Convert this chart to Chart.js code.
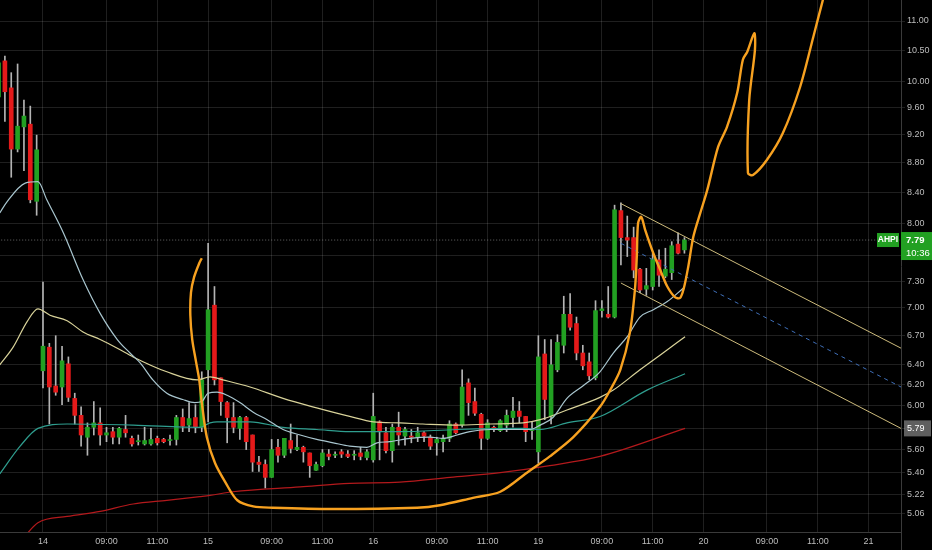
<!DOCTYPE html>
<html>
<head>
<meta charset="utf-8">
<script src="https://cdn.jsdelivr.net/npm/chart.js@4.4.1/dist/chart.umd.min.js"></script>
<style>
    html, body { margin: 0; padding: 0; background: #000; }
    #chart { display: block; }
</style>
</head>
<body>
<canvas id="chart" width="932" height="550"></canvas>
<script>
// bar index of the first candle (0 = first bar of the 14th)
const firstBar = -7
const opens = [9.76, 10.33, 9.90, 8.99, 9.31, 9.35, 8.28,
    6.34, 6.58, 6.19, 6.18, 6.41, 6.07, 5.91, 5.71, 5.80, 5.84, 5.73, 5.76, 5.71, 5.78, 5.70, 5.67, 5.65, 5.65, 5.70, 5.69, 5.68, 5.69, 5.89, 5.82, 5.89, 5.80,
    6.35, 7.03, 6.27, 6.03, 5.89, 5.79, 5.89, 5.73, 5.49, 5.47, 5.36, 5.62, 5.55, 5.68, 5.60, 5.62, 5.57, 5.42, 5.46, 5.56, 5.55, 5.58, 5.56, 5.55, 5.57, 5.53,
    5.51, 5.85, 5.75, 5.59, 5.80, 5.72, 5.72, 5.71, 5.75, 5.71, 5.66, 5.67, 5.70, 5.83, 5.82, 6.22, 6.04, 5.92, 5.70, 5.80, 5.77, 5.82, 5.89, 5.95, 5.90, 5.77,
    5.58, 6.51, 5.90, 6.35, 6.60, 6.93, 6.83, 6.52, 6.43, 6.27, 6.97, 6.93, 6.90, 8.16, 7.82, 7.82, 7.44, 7.21, 7.24, 7.55, 7.36, 7.40, 7.74, 7.67]
const highs = [10.46, 10.41, 10.14, 10.28, 9.71, 9.62, 9.19,
    7.29, 6.62, 6.70, 6.59, 6.48, 6.12, 5.99, 5.84, 6.04, 5.98, 5.80, 5.80, 5.80, 5.91, 5.72, 5.73, 5.80, 5.79, 5.72, 5.70, 5.73, 5.91, 5.97, 6.03, 6.01, 6.33,
    7.75, 7.24, 6.27, 6.04, 6.03, 5.90, 5.90, 5.73, 5.54, 5.51, 5.69, 5.69, 5.70, 5.83, 5.73, 5.63, 5.57, 5.49, 5.60, 5.60, 5.58, 5.60, 5.59, 5.59, 5.62, 5.60,
    6.12, 5.86, 5.80, 5.83, 5.94, 5.80, 5.78, 5.80, 5.76, 5.73, 5.71, 5.73, 5.86, 5.84, 6.35, 6.26, 6.17, 5.93, 5.87, 5.81, 5.87, 5.96, 6.08, 6.04, 5.90, 5.85,
    6.70, 6.66, 6.66, 6.71, 7.13, 7.16, 6.90, 6.60, 6.52, 7.08, 7.08, 7.24, 8.23, 8.26, 8.09, 7.95, 7.45, 7.45, 7.63, 7.67, 7.69, 7.77, 7.88, 7.82]
const lows = [9.37, 9.39, 8.60, 8.95, 8.69, 8.26, 8.10,
    6.17, 5.83, 6.10, 6.01, 6.04, 5.83, 5.63, 5.55, 5.73, 5.64, 5.67, 5.65, 5.65, 5.71, 5.63, 5.64, 5.64, 5.64, 5.64, 5.66, 5.64, 5.64, 5.76, 5.76, 5.75, 5.76,
    5.85, 6.20, 5.91, 5.66, 5.75, 5.69, 5.60, 5.41, 5.41, 5.27, 5.36, 5.49, 5.53, 5.57, 5.59, 5.49, 5.36, 5.42, 5.45, 5.51, 5.53, 5.53, 5.53, 5.51, 5.51, 5.51,
    5.49, 5.51, 5.57, 5.49, 5.64, 5.64, 5.66, 5.67, 5.67, 5.60, 5.55, 5.58, 5.67, 5.74, 5.80, 5.91, 5.91, 5.60, 5.69, 5.76, 5.76, 5.76, 5.80, 5.84, 5.67, 5.69,
    5.48, 5.87, 5.83, 6.33, 6.52, 6.76, 6.45, 6.35, 6.25, 6.25, 6.90, 6.89, 6.89, 7.49, 7.59, 7.34, 7.17, 7.14, 7.20, 7.24, 7.34, 7.32, 7.62, 7.63]
const closes = [10.30, 9.84, 8.99, 9.32, 9.47, 8.30, 8.98,
    6.59, 6.18, 6.13, 6.44, 6.08, 5.91, 5.73, 5.80, 5.84, 5.73, 5.75, 5.71, 5.79, 5.75, 5.65, 5.67, 5.68, 5.69, 5.66, 5.67, 5.68, 5.89, 5.81, 5.88, 5.80, 6.25,
    6.98, 6.25, 6.04, 5.89, 5.80, 5.89, 5.67, 5.49, 5.47, 5.36, 5.60, 5.55, 5.70, 5.61, 5.62, 5.58, 5.46, 5.47, 5.57, 5.54, 5.55, 5.56, 5.54, 5.55, 5.54, 5.58,
    5.90, 5.76, 5.59, 5.80, 5.73, 5.78, 5.71, 5.75, 5.72, 5.63, 5.69, 5.70, 5.83, 5.75, 6.18, 6.03, 5.93, 5.70, 5.84, 5.79, 5.86, 5.91, 5.95, 5.90, 5.76, 5.77,
    6.48, 6.06, 6.40, 6.63, 6.93, 6.79, 6.52, 6.39, 6.29, 6.97, 6.99, 6.90, 8.17, 7.82, 7.79, 7.43, 7.20, 7.25, 7.56, 7.37, 7.44, 7.72, 7.63, 7.79]

// moving averages as (bar index, price)
const fastMaX = [-6.8, -5.7, -2.8, -0.8, 0.6, 3.2, 6.3, 9.0, 11.7, 13.7, 15.3, 17.3, 19.5, 22.0, 23.9, 25.0, 26.0, 27.4, 29.0, 31.0, 33.1, 35.3, 37.8, 40.5, 43.1, 45.7, 48.3, 51.0, 52.6, 54.6, 57.8, 60.9, 63.0, 65.2, 67.2, 70.4, 73.5, 76.7, 78.3, 80.3, 82.5, 85.0, 87.7, 89.8, 92.0, 94.0, 96.1, 98.3, 100.8]
const fastMaY = [8.13, 8.27, 8.52, 8.54, 8.30, 7.88, 7.32, 6.94, 6.66, 6.52, 6.42, 6.25, 6.12, 6.06, 6.03, 6.04, 6.12, 6.13, 6.10, 6.03, 5.94, 5.87, 5.78, 5.73, 5.69, 5.66, 5.63, 5.62, 5.66, 5.67, 5.70, 5.71, 5.70, 5.73, 5.76, 5.78, 5.78, 5.78, 5.82, 5.89, 6.07, 6.19, 6.33, 6.52, 6.69, 6.90, 6.98, 7.07, 7.22]
const midMaX = [-6.8, -4.7, -2.5, -0.8, 1.1, 3.8, 6.3, 9.0, 11.7, 14.2, 19.5, 24.3, 26.3, 28.3, 32.6, 37.8, 43.1, 48.3, 52.0, 56.2, 59.8, 65.2, 70.4, 75.6, 78.3, 82.5, 87.7, 89.8, 94.0, 97.2, 101.1]
const midMaY = [6.40, 6.58, 6.85, 6.99, 6.92, 6.86, 6.74, 6.66, 6.57, 6.48, 6.33, 6.25, 6.28, 6.25, 6.18, 6.07, 5.98, 5.90, 5.85, 5.84, 5.83, 5.82, 5.83, 5.84, 5.87, 5.96, 6.08, 6.15, 6.35, 6.50, 6.69]
const slowMaX = [-6.8, -3.6, -0.8, 3.8, 14.2, 24.7, 26.3, 27.4, 32.6, 37.8, 43.1, 48.3, 56.2, 65.2, 75.6, 78.3, 82.5, 87.7, 95.1, 101.1]
const slowMaY = [5.39, 5.63, 5.79, 5.83, 5.82, 5.80, 5.84, 5.85, 5.85, 5.80, 5.78, 5.76, 5.76, 5.78, 5.79, 5.78, 5.84, 5.90, 6.15, 6.31]
const longMaX = [-3.3, -0.8, 3.8, 9.0, 14.2, 19.5, 24.7, 26.3, 29.9, 40.5, 48.3, 56.2, 64.1, 72.0, 79.8, 87.7, 101.1]
const longMaY = [4.86, 4.99, 5.04, 5.08, 5.14, 5.17, 5.20, 5.21, 5.24, 5.28, 5.31, 5.32, 5.36, 5.40, 5.46, 5.54, 5.79]

// freehand orange drawing
const drawX = [25.0, 24.6, 23.8, 23.3, 23.2, 23.5, 24.1, 24.6, 25.0, 25.8, 27.1, 28.7, 30.6, 33.1, 36.2, 45.7, 58.9, 62.5, 67.7, 72.0, 76.2, 79.8, 83.5, 87.7, 89.3, 90.9, 92.4, 93.2, 93.5, 93.7, 94.2, 94.8, 96.1, 97.2, 98.3, 99.5, 100.3, 100.9, 101.6, 102.4, 103.5, 104.6, 106.3, 107.7, 109.3, 110.2, 110.9, 112.0, 112.1, 111.2, 111.0, 111.8, 114.0, 116.5, 119.2, 121.3, 122.8, 123.3]
const drawY = [7.57, 7.51, 7.35, 7.17, 6.92, 6.66, 6.43, 6.25, 6.03, 5.71, 5.48, 5.32, 5.17, 5.12, 5.11, 5.10, 5.11, 5.13, 5.19, 5.24, 5.40, 5.54, 5.71, 5.99, 6.15, 6.35, 6.73, 7.20, 7.59, 8.00, 8.08, 7.92, 7.63, 7.43, 7.24, 7.12, 7.11, 7.22, 7.47, 7.83, 8.13, 8.43, 9.02, 9.31, 9.82, 10.35, 10.48, 10.79, 10.51, 9.71, 8.66, 8.63, 8.84, 9.22, 9.91, 10.73, 11.37, 11.56]

// parallel channel
const channelX = [91.0, 135.1]
const channelUpper = [8.25, 6.57]
const channelMid = [7.75, 6.18]
const channelLower = [7.28, 5.79]

const lastPrice = 7.79
const lastTime = '10:36'
const symbol = 'AHPI'

const xTickVals = [0, 10, 18, 26, 36, 44, 52, 62, 70, 78, 88, 96, 104, 114, 122, 130]
const xTickLabels = ['14', '09:00', '11:00', '15', '09:00', '11:00', '16', '09:00', '11:00', '19', '09:00', '11:00', '20', '09:00', '11:00', '21']
const yTickVals = [11.00, 10.50, 10.00, 9.60, 9.20, 8.80, 8.40, 8.00, 7.60, 7.30, 7.00, 6.70, 6.40, 6.20, 6.00, 5.79, 5.60, 5.40, 5.22, 5.06]

const green = '#22a022'
const red = '#e41a1a'
const gridColor = 'rgba(255,255,255,0.12)'
const font = "'Liberation Sans Narrow', 'Liberation Sans', sans-serif"

function pts(xs, ys) {
    return xs.map((x, k) => ({ x: x, y: ys[k] }))
}

function lineSet(xs, ys, color, width, extra) {
    return Object.assign({
        type: 'line',
        data: pts(xs, ys),
        borderColor: color,
        borderWidth: width,
        pointRadius: 0,
        fill: false,
        cubicInterpolationMode: 'monotone'
    }, extra || {})
}

let candleX = opens.map((_, k) => firstBar + k)
let bodyColors = opens.map((o, k) => closes[k] >= o ? green : red)

const tags = {
    id: 'tags',
    beforeDraw(chart) {
        const ctx = chart.ctx
        const area = chart.chartArea
        const y = chart.scales.y.getPixelForValue(channelLower[1])
        ctx.save()
        ctx.fillStyle = '#5f5f5f'
        ctx.fillRect(area.right + 3, y - 8, 27, 16)
        ctx.restore()
    },
    afterDraw(chart) {
        const ctx = chart.ctx
        const area = chart.chartArea
        const y = chart.scales.y.getPixelForValue(lastPrice)
        ctx.save()
        // axis line through the time axis
        ctx.strokeStyle = '#3a3a3a'
        ctx.beginPath()
        ctx.moveTo(area.right + 0.5, area.bottom)
        ctx.lineTo(area.right + 0.5, chart.height)
        ctx.stroke()
        // last price tag
        ctx.fillStyle = green
        ctx.fillRect(area.right, y - 8, chart.width - area.right, 28)
        ctx.fillRect(area.right - 24, y - 7, 22, 14)
        ctx.fillStyle = '#ffffff'
        ctx.textBaseline = 'middle'
        ctx.font = 'bold 9.5px ' + font
        ctx.textAlign = 'left'
        ctx.fillText(lastPrice.toFixed(2), area.right + 5, y)
        ctx.font = '9.5px ' + font
        ctx.fillText(lastTime, area.right + 5, y + 13)
        ctx.font = 'bold 8.5px ' + font
        ctx.textAlign = 'center'
        ctx.fillText(symbol, area.right - 13, y)
        ctx.restore()
    }
}

new Chart(document.getElementById('chart'), {
    type: 'bar',
    data: {
        datasets: [
            lineSet(drawX, drawY, '#f7a120', 2.4, { order: 0, tension: 0.3, cubicInterpolationMode: 'default' }),
            lineSet(channelX, channelUpper, '#cdbb7c', 1, { order: 1 }),
            lineSet(channelX, channelLower, '#cdbb7c', 1, { order: 1 }),
            lineSet(channelX, channelMid, '#3f6fb8', 1, { order: 1, borderDash: [4, 4] }),
            lineSet(fastMaX, fastMaY, '#a9c6cf', 1.2, { order: 2 }),
            lineSet(midMaX, midMaY, '#d9d39a', 1.2, { order: 2 }),
            lineSet(slowMaX, slowMaY, '#2f9e8f', 1.2, { order: 2 }),
            lineSet(longMaX, longMaY, '#b3191c', 1.2, { order: 2 }),
            {
                label: 'bodies',
                data: candleX.map((x, k) => ({ x: x, y: [opens[k], closes[k]] })),
                backgroundColor: bodyColors,
                barThickness: 4,
                minBarLength: 1,
                grouped: false,
                order: 3
            },
            {
                label: 'wicks',
                data: candleX.map((x, k) => ({ x: x, y: [lows[k], highs[k]] })),
                backgroundColor: '#b4b4b4',
                barThickness: 1,
                grouped: false,
                order: 4
            },
            lineSet([-8, 136], [lastPrice, lastPrice], 'rgba(190,190,190,0.55)', 1, { order: 5, borderDash: [1, 2] })
        ]
    },
    plugins: [tags],
    options: {
        responsive: false,
        animation: false,
        layout: { padding: 0 },
        plugins: {
            legend: { display: false },
            tooltip: { enabled: false }
        },
        scales: {
            x: {
                type: 'linear',
                min: -6.77,
                max: 135.1,
                bounds: 'data',
                offset: false,
                grid: { color: gridColor, offset: false, drawTicks: false },
                border: { color: '#3a3a3a' },
                ticks: {
                    autoSkip: false,
                    maxRotation: 0,
                    padding: 4,
                    color: '#bdbdbd',
                    font: { family: font, size: 9 },
                    callback: v => xTickLabels[xTickVals.indexOf(v)]
                },
                afterBuildTicks: axis => { axis.ticks = xTickVals.map(v => ({ value: v })) },
                afterFit: axis => {
                    axis.height = 18
                    axis.paddingLeft = 0
                    axis.paddingRight = 0
                }
            },
            y: {
                type: 'logarithmic',
                position: 'right',
                min: 4.918,
                max: 11.37,
                bounds: 'data',
                grid: { color: gridColor, tickLength: 4 },
                border: { color: '#3a3a3a' },
                ticks: {
                    autoSkip: false,
                    padding: 2,
                    color: ctx => ctx.tick && ctx.tick.value === channelLower[1] ? '#ffffff' : '#bdbdbd',
                    font: { family: font, size: 9 },
                    callback: v => Number(v).toFixed(2)
                },
                afterBuildTicks: axis => { axis.ticks = yTickVals.map(v => ({ value: v })) },
                afterFit: axis => {
                    axis.width = 31
                    axis.paddingTop = 0
                    axis.paddingBottom = 0
                }
            }
        }
    }
})
</script>
</body>
</html>
